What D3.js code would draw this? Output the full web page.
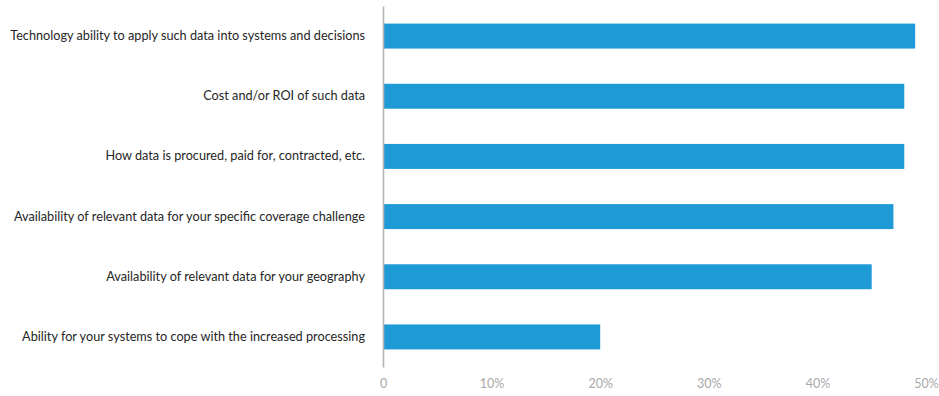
<!DOCTYPE html>
<html>
<head>
<meta charset="utf-8">
<script src="https://cdn.jsdelivr.net/npm/d3@7"></script>
<style>
  html, body { margin: 0; padding: 0; background: #fff; }
  svg { display: block; }
</style>
</head>
<body>
<svg id="chart" width="939" height="396"></svg>
<script>
// Challenges ranked by share of respondents
const categories = [
  "Technology ability to apply such data into systems and decisions",
  "Cost and/or ROI of such data",
  "How data is procured, paid for, contracted, etc.",
  "Availability of relevant data for your specific coverage challenge",
  "Availability of relevant data for your geography",
  "Ability for your systems to cope with the increased processing"
];
const values = [49, 48, 48, 47, 45, 20];
const tickValues = [0, 10, 20, 30, 40, 50];
const tickLabels = ["0", "10%", "20%", "30%", "40%", "50%"];

const svg = d3.select("#chart");
const fontFamily = "Lato, 'Open Sans', sans-serif";

const x = d3.scaleLinear().domain([0, 50]).range([383, 926]);
const y = d3.scaleBand()
  .domain(categories)
  .range([6, 367])
  .paddingInner(0.585)
  .paddingOuter(0.2925);

// bars
svg.append("g")
  .selectAll("rect")
  .data(values)
  .join("rect")
  .attr("x", x(0))
  .attr("y", (d, i) => y(categories[i]))
  .attr("width", d => x(d) - x(0))
  .attr("height", y.bandwidth())
  .attr("fill", "#1e9ad6");

// category axis (left)
const yAxis = d3.axisLeft(y).tickSize(0).tickPadding(18);
const gy = svg.append("g")
  .attr("transform", `translate(${x(0)},0)`)
  .call(yAxis);
gy.select(".domain").attr("stroke", "#b4b4b4").attr("stroke-width", 1.6);
gy.selectAll("text")
  .attr("fill", "#262626")
  .style("font-family", fontFamily)
  .style("font-size", "12.7px");

// value axis (bottom), labels only
const xAxis = d3.axisBottom(x)
  .tickValues(tickValues)
  .tickFormat((d, i) => tickLabels[i])
  .tickSize(0)
  .tickPadding(0);
const gx = svg.append("g")
  .attr("transform", "translate(0,379)")
  .call(xAxis);
gx.select(".domain").remove();
gx.selectAll("text")
  .attr("fill", "#a8a8a8")
  .style("font-family", fontFamily)
  .style("font-size", "12.5px");
</script>
</body>
</html>
